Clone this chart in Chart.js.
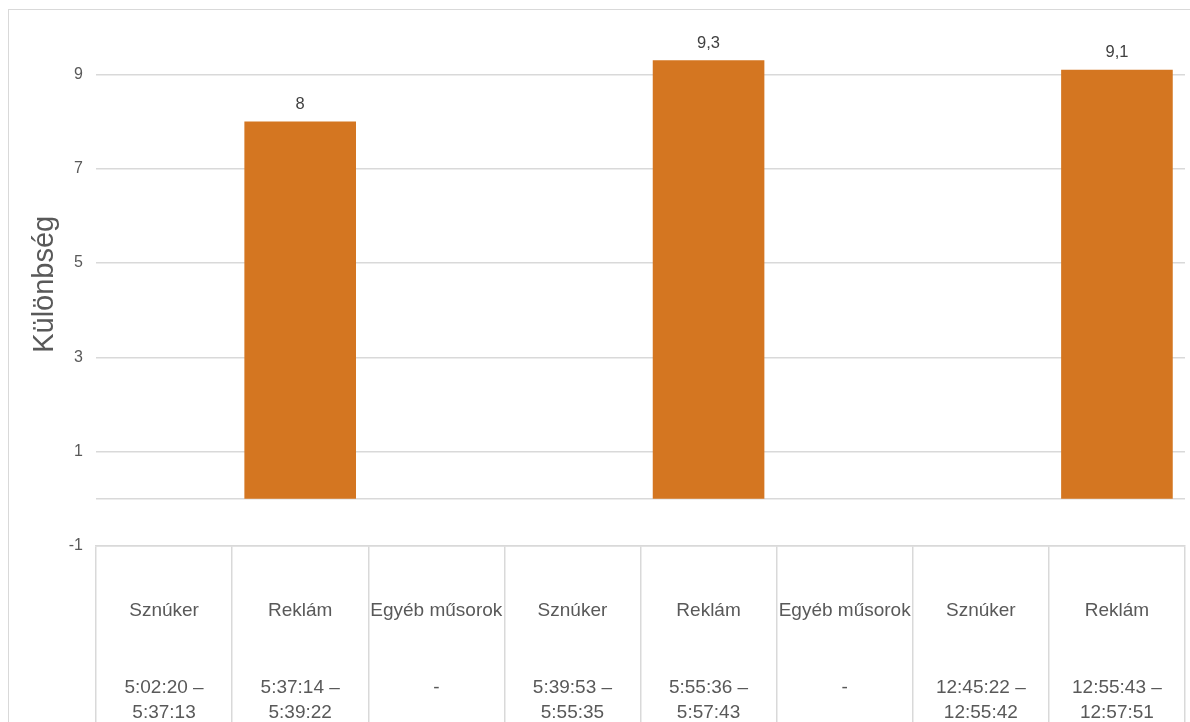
<!DOCTYPE html>
<html>
<head>
<meta charset="utf-8">
<script src="https://cdn.jsdelivr.net/npm/chart.js@4"></script>
<style>
  body { margin: 0; width: 1190px; height: 722px; overflow: hidden; background: #fff; }
  #frame { position: absolute; left: 8px; top: 9px; width: 1200px; height: 800px; border: 1.5px solid #d9d9d9; }
  #wrap { position: absolute; left: 0; top: 0; width: 1190px; height: 722px; }
</style>
</head>
<body>
<div id="frame"></div>
<div id="wrap"><canvas id="myChart" width="1190" height="722"></canvas></div>
<script>
// Kategóriák: műsor típusa és időszak
const musorok = ["Sznúker", "Reklám", "Egyéb műsorok", "Sznúker", "Reklám", "Egyéb műsorok", "Sznúker", "Reklám"];
const idoszakok = [
  ["5:02:20 –", "5:37:13"],
  ["5:37:14 –", "5:39:22"],
  ["-"],
  ["5:39:53 –", "5:55:35"],
  ["5:55:36 –", "5:57:43"],
  ["-"],
  ["12:45:22 –", "12:55:42"],
  ["12:55:43 –", "12:57:51"]
];
// Különbség értékek (csak a reklámoknál van érték)
const kulonbseg = [null, 8, null, null, 9.3, null, null, 9.1];
const yTicks = [-1, 1, 3, 5, 7, 9];

const labels = musorok.map((m, i) => [m, "", "", ...idoszakok[i]]);

const textColor = "#595959";
const gridColor = "#d9d9d9";
const font = "'Liberation Sans', Arial, sans-serif";

// Vonal a 0 értéknél
const zeroLine = {
  id: "zeroLine",
  beforeDatasetsDraw(chart) {
    const y = chart.scales.y.getPixelForValue(0);
    const ctx = chart.ctx;
    ctx.save();
    ctx.strokeStyle = gridColor;
    ctx.lineWidth = 1.5;
    ctx.beginPath();
    ctx.moveTo(chart.chartArea.left, y);
    ctx.lineTo(chart.chartArea.right, y);
    ctx.stroke();
    ctx.restore();
  }
};

// Értékek kiírása az oszlopok fölé
const valueLabels = {
  id: "valueLabels",
  afterDatasetsDraw(chart) {
    const ctx = chart.ctx;
    const meta = chart.getDatasetMeta(0);
    ctx.save();
    ctx.font = "16.5px " + font;
    ctx.fillStyle = "#404040";
    ctx.textAlign = "center";
    ctx.textBaseline = "middle";
    meta.data.forEach((bar, i) => {
      const v = kulonbseg[i];
      if (v === null) return;
      ctx.fillText(String(v).replace(".", ","), bar.x, bar.y - 17);
    });
    ctx.restore();
  }
};

const ctx = document.getElementById("myChart").getContext("2d");

const chart = new Chart(ctx, {
  type: "bar",
  data: {
    labels: labels,
    datasets: [{
      data: kulonbseg,
      backgroundColor: "#d47621",
      categoryPercentage: 1,
      barPercentage: 0.82
    }]
  },
  plugins: [zeroLine, valueLabels],
  options: {
    responsive: false,
    animation: false,
    layout: { padding: { top: 7, bottom: 0, right: 5 } },
    plugins: {
      legend: { display: false },
      tooltip: { enabled: false }
    },
    scales: {
      x: {
        offset: true,
        afterFit: (scale) => { scale.height = 176; },
        border: { display: true, color: gridColor, width: 1.5 },
        grid: {
          offset: true,
          drawOnChartArea: false,
          drawTicks: true,
          tickLength: 176,
          color: gridColor,
          lineWidth: 1.5
        },
        ticks: {
          color: textColor,
          font: { size: 19, family: font, lineHeight: 25.5 / 19 },
          padding: -123.75,
          maxRotation: 0,
          autoSkip: false
        }
      },
      y: {
        min: -1,
        max: 10.1,
        afterBuildTicks: (scale) => {
          scale.ticks = yTicks.map(v => ({ value: v }));
        },
        afterFit: (scale) => { scale.width = 96; },
        border: { display: false },
        grid: { color: gridColor, lineWidth: 1.5, drawTicks: false },
        ticks: {
          color: textColor,
          font: { size: 16, family: font },
          padding: 13
        },
        title: {
          display: true,
          text: "Különbség",
          color: textColor,
          font: { size: 29, family: font },
          padding: { top: 28, bottom: 0 }
        }
      }
    }
  }
});
</script>
</body>
</html>
